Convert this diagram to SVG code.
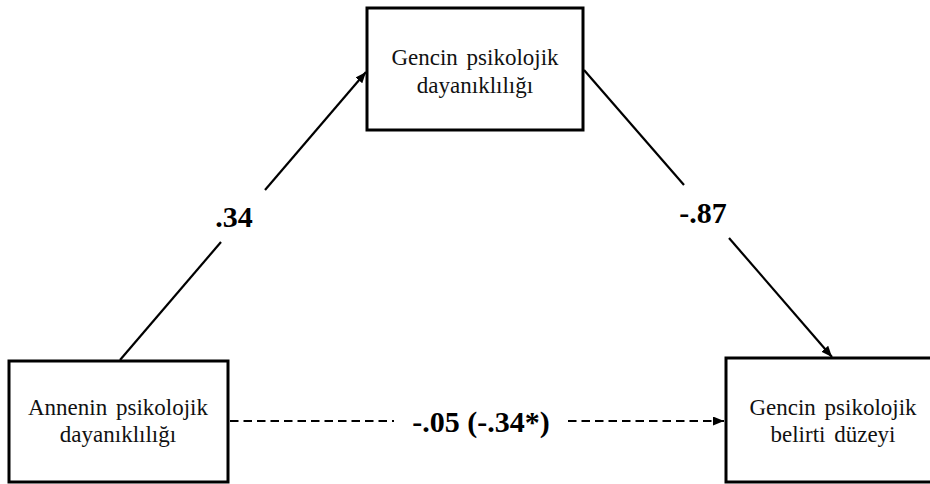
<svg xmlns="http://www.w3.org/2000/svg" width="930" height="484" viewBox="0 0 930 484">
<style>
.box{fill:#fff;stroke:#000;stroke-width:3}
.lbl{font-family:"Liberation Serif","Times New Roman",serif;font-size:23px;fill:#111;text-anchor:middle;word-spacing:3px}
.coef{font-family:"Liberation Serif","Times New Roman",serif;font-size:30px;font-weight:bold;fill:#000;text-anchor:middle}
.conn{stroke:#000;stroke-width:2.2;fill:none}
.dash{stroke-dasharray:8.5 5}
</style>
<defs>
<marker id="ah" markerUnits="userSpaceOnUse" markerWidth="12" markerHeight="10" refX="11" refY="4.5" orient="auto">
<path d="M0,0 L11,4.5 L0,9 z" fill="#000"/>
</marker>
</defs>
<rect width="930" height="484" fill="#fff"/>
<g id="connectors">
<line class="conn" x1="120" y1="360" x2="221" y2="242"/>
<line class="conn" x1="265" y1="190" x2="366" y2="72" marker-end="url(#ah)"/>
<line class="conn" x1="584" y1="70" x2="684" y2="185"/>
<line class="conn" x1="729" y1="238" x2="832" y2="357" marker-end="url(#ah)"/>
<line class="conn dash" x1="230" y1="421" x2="394" y2="421"/>
<line class="conn dash" x1="568" y1="421" x2="724" y2="421" marker-end="url(#ah)"/>
</g>
<g id="node-top">
<rect class="box" x="367" y="8" width="216" height="122"/>
<text class="lbl" x="475" y="65">Gencin psikolojik</text>
<text class="lbl" x="475" y="93">dayanıklılığı</text>
</g>
<g id="node-left">
<rect class="box" x="9" y="361" width="219" height="121"/>
<text class="lbl" x="118" y="415">Annenin psikolojik</text>
<text class="lbl" x="118" y="442">dayanıklılığı</text>
</g>
<g id="node-right">
<rect class="box" x="726" y="358" width="214" height="124"/>
<text class="lbl" x="833" y="415">Gencin psikolojik</text>
<text class="lbl" x="833" y="442">belirti düzeyi</text>
</g>
<g id="labels">
<text class="coef" x="234" y="227">.34</text>
<text class="coef" x="703" y="223">-.87</text>
<text class="coef" x="481" y="432">-.05 (-.34*)</text>
</g>
</svg>
